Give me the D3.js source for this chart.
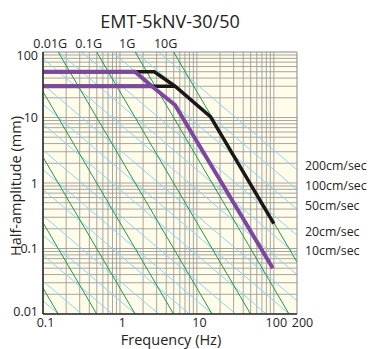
<!DOCTYPE html>
<html>
<head>
<meta charset="utf-8">
<script src="https://cdn.jsdelivr.net/npm/d3@7"></script>
<style>
  body { margin: 0; background: #fff; }
  text { font-family: "Open Sans", sans-serif; fill: #222; }
</style>
</head>
<body>
<div id="chart"></div>
<script>
// frequency (Hz) and half-amplitude (mm) ticks
const freqTicks = [0.1, 1, 10, 100, 200];
const dispTicks = [0.01, 0.1, 1, 10, 100];

// constant acceleration lines (G) and the ones labelled along the top
const accelLevels = [1e-6, 1e-5, 1e-4, 1e-3, 0.01, 0.1, 1, 10];
const accelLabels = [0.01, 0.1, 1, 10];

// constant velocity lines (cm/sec) and the ones labelled on the right
const velocityLevels = [0.001, 0.002, 0.005, 0.01, 0.02, 0.05, 0.1, 0.2, 0.5,
                        1, 2, 5, 10, 20, 50, 100, 200];
const velocityLabels = [200, 100, 50, 20, 10];

// performance curves: [Hz, mm]
const blackUpper = [[0.1, 50], [2.8, 50], [5.2, 30], [15, 10.3], [100, 0.24]];
const blackLower = [[0.1, 30], [5.2, 30]];
const purpleUpper = [[0.1, 50], [1.57, 50], [2.6, 30], [5.2, 15.5], [97, 0.05]];
const purpleLower = [[0.1, 30], [2.6, 30]];

const W = 371, H = 349;
const margin = { top: 52, right: 74, bottom: 35, left: 43 };
const width = W - margin.left - margin.right,
      height = H - margin.top - margin.bottom;

const svg = d3.select("#chart").append("svg")
    .attr("width", W)
    .attr("height", H);

const g = svg.append("g")
    .attr("transform", `translate(${margin.left},${margin.top})`);

const x = d3.scaleLog().domain([0.1, 200]).range([0, width]);
const y = d3.scaleLog().domain([0.01, 100]).range([height, 0]);

g.append("defs").append("clipPath").attr("id", "plot-clip")
  .append("rect").attr("width", width).attr("height", height);

g.append("rect")
  .attr("width", width).attr("height", height)
  .attr("fill", "#fffcea");

// log grid
const gridX = [];
[0.1, 1, 10].forEach(dec => d3.range(1, 10).forEach(k => gridX.push(dec * k)));
gridX.push(100);
const gridY = [];
[0.01, 0.1, 1, 10].forEach(dec => d3.range(1, 10).forEach(k => gridY.push(dec * k)));

const grid = g.append("g");
grid.selectAll(".gx").data(gridX).join("line")
    .attr("x1", d => x(d)).attr("x2", d => x(d))
    .attr("y1", 0).attr("y2", height)
    .attr("stroke", "#9c9c9c").attr("stroke-width", 0.9);
grid.selectAll(".gy").data(gridY).join("line")
    .attr("x1", 0).attr("x2", width)
    .attr("y1", d => y(d)).attr("y2", d => y(d))
    .attr("stroke", "#9c9c9c").attr("stroke-width", 0.9);

const lines = g.append("g").attr("clip-path", "url(#plot-clip)");
const fr = [0.1, 200];

// velocity lines: D(mm) = v / (2 pi f)
velocityLevels.forEach(v => {
  lines.append("line")
    .attr("x1", x(fr[0])).attr("y1", y(v * 10 / (2 * Math.PI * fr[0])))
    .attr("x2", x(fr[1])).attr("y2", y(v * 10 / (2 * Math.PI * fr[1])))
    .attr("stroke", "#8fd3f2").attr("stroke-width", 1);
});

// acceleration lines: D(mm) = a / (2 pi f)^2
accelLevels.forEach(a => {
  const acc = a * 9806.65;
  lines.append("line")
    .attr("x1", x(fr[0])).attr("y1", y(acc / Math.pow(2 * Math.PI * fr[0], 2)))
    .attr("x2", x(fr[1])).attr("y2", y(acc / Math.pow(2 * Math.PI * fr[1], 2)))
    .attr("stroke", "#1c9a4e").attr("stroke-width", 1);
});

const line = d3.line().x(d => x(d[0])).y(d => y(d[1]));

[blackUpper, blackLower].forEach(pts => {
  lines.append("path").datum(pts)
    .attr("fill", "none").attr("stroke", "#1b1716")
    .attr("stroke-width", 3.5).attr("stroke-linejoin", "miter")
    .attr("d", line);
});
[purpleUpper, purpleLower].forEach(pts => {
  lines.append("path").datum(pts)
    .attr("fill", "none").attr("stroke", "#7b479f")
    .attr("stroke-width", 4).attr("stroke-linejoin", "miter")
    .attr("d", line);
});

// frame
g.append("line").attr("x1", 0).attr("x2", width).attr("y1", 0).attr("y2", 0)
  .attr("stroke", "#888").attr("stroke-width", 1);
g.append("line").attr("x1", width).attr("x2", width).attr("y1", 0).attr("y2", height)
  .attr("stroke", "#888").attr("stroke-width", 1);
g.append("line").attr("x1", 0).attr("x2", 0).attr("y1", 0).attr("y2", height)
  .attr("stroke", "#2b2b2b").attr("stroke-width", 1.6);
g.append("line").attr("x1", 0).attr("x2", width).attr("y1", height).attr("y2", height)
  .attr("stroke", "#2b2b2b").attr("stroke-width", 1.6);

// axes
const fmtNum = d => d3.format("~g")(d);
const xAxis = g.append("g").attr("transform", `translate(0,${height})`)
  .call(d3.axisBottom(x).tickValues(freqTicks).tickFormat(fmtNum).tickSize(0).tickPadding(4));
const yAxis = g.append("g")
  .call(d3.axisLeft(y).tickValues(dispTicks).tickFormat(fmtNum).tickSize(0).tickPadding(5));
[xAxis, yAxis].forEach(ax => {
  ax.select(".domain").remove();
  ax.selectAll("text").attr("font-size", 12.5).attr("fill", "#222")
    .style("font-family", '"Open Sans", sans-serif');
});
xAxis.selectAll("text").attr("dx", d => d === 200 ? 5 : 2);
yAxis.selectAll("text").attr("dy", d => d === 100 ? "0.6em" : d === 0.01 ? "0.15em" : "0.32em");

// acceleration labels along the top
g.selectAll(".glab").data(accelLabels).join("text")
  .attr("x", a => {
    const f = Math.sqrt(a * 9806.65 / (y.domain()[1] * 4 * Math.PI * Math.PI));
    return x(f) - 8;
  })
  .attr("y", -4)
  .attr("text-anchor", "middle")
  .attr("font-size", 12.5)
  .text(a => fmtNum(a) + "G");

// velocity labels on the right
g.selectAll(".vlab").data(velocityLabels).join("text")
  .attr("x", width + 8)
  .attr("y", v => y(v * 10 / (2 * Math.PI * 200)) - 4)
  .attr("dy", "0.35em")
  .attr("font-size", 12.3)
  .text(v => v + "cm/sec");

// titles
svg.append("text")
  .attr("x", 170).attr("y", 28)
  .attr("text-anchor", "middle")
  .attr("font-size", 18)
  .text("EMT-5kNV-30/50");

svg.append("text")
  .attr("x", 171).attr("y", 345)
  .attr("text-anchor", "middle")
  .attr("font-size", 14.5)
  .text("Frequency (Hz)");

svg.append("text")
  .attr("transform", "translate(21,186) rotate(-90)")
  .attr("text-anchor", "middle")
  .attr("font-size", 14.5)
  .text("Half-amplitude (mm)");
</script>
</body>
</html>
